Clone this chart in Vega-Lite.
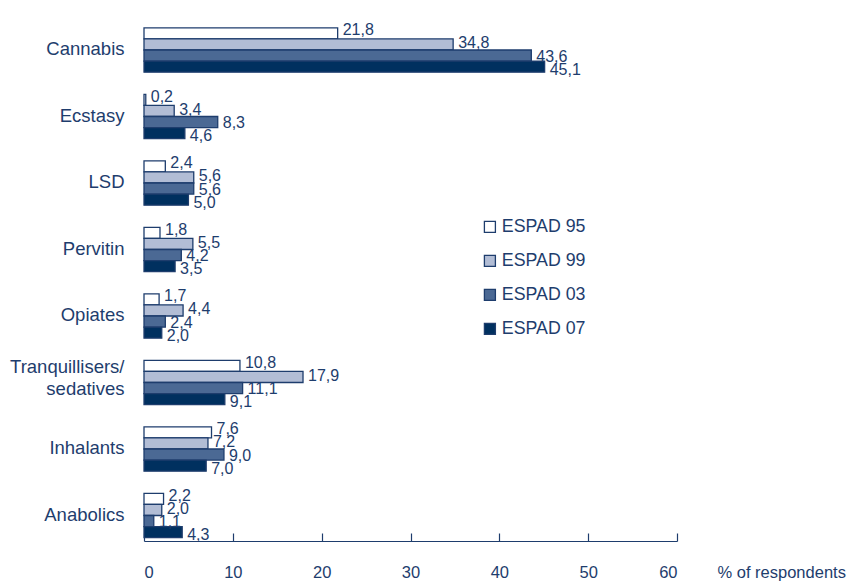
{
  "$schema": "https://vega.github.io/schema/vega-lite/v6.json",
  "width": 533,
  "height": 526,
  "autosize": {"type": "none"},
  "padding": {"left": 144, "top": 15, "right": 186, "bottom": 40},
  "background": "white",
  "config": {
    "view": {"stroke": null},
    "font": "Liberation Sans",
    "locale": {"number": {"decimal": ",", "thousands": ".", "grouping": [3], "currency": ["", " €"]}}
  },
  "data": {"values": [
    {"drug": "Cannabis", "survey": "ESPAD 95", "pct": 21.8},
    {"drug": "Cannabis", "survey": "ESPAD 99", "pct": 34.8},
    {"drug": "Cannabis", "survey": "ESPAD 03", "pct": 43.6},
    {"drug": "Cannabis", "survey": "ESPAD 07", "pct": 45.1},
    {"drug": "Ecstasy", "survey": "ESPAD 95", "pct": 0.2},
    {"drug": "Ecstasy", "survey": "ESPAD 99", "pct": 3.4},
    {"drug": "Ecstasy", "survey": "ESPAD 03", "pct": 8.3},
    {"drug": "Ecstasy", "survey": "ESPAD 07", "pct": 4.6},
    {"drug": "LSD", "survey": "ESPAD 95", "pct": 2.4},
    {"drug": "LSD", "survey": "ESPAD 99", "pct": 5.6},
    {"drug": "LSD", "survey": "ESPAD 03", "pct": 5.6},
    {"drug": "LSD", "survey": "ESPAD 07", "pct": 5.0},
    {"drug": "Pervitin", "survey": "ESPAD 95", "pct": 1.8},
    {"drug": "Pervitin", "survey": "ESPAD 99", "pct": 5.5},
    {"drug": "Pervitin", "survey": "ESPAD 03", "pct": 4.2},
    {"drug": "Pervitin", "survey": "ESPAD 07", "pct": 3.5},
    {"drug": "Opiates", "survey": "ESPAD 95", "pct": 1.7},
    {"drug": "Opiates", "survey": "ESPAD 99", "pct": 4.4},
    {"drug": "Opiates", "survey": "ESPAD 03", "pct": 2.4},
    {"drug": "Opiates", "survey": "ESPAD 07", "pct": 2.0},
    {"drug": "Tranquillisers/sedatives", "survey": "ESPAD 95", "pct": 10.8},
    {"drug": "Tranquillisers/sedatives", "survey": "ESPAD 99", "pct": 17.9},
    {"drug": "Tranquillisers/sedatives", "survey": "ESPAD 03", "pct": 11.1},
    {"drug": "Tranquillisers/sedatives", "survey": "ESPAD 07", "pct": 9.1},
    {"drug": "Inhalants", "survey": "ESPAD 95", "pct": 7.6},
    {"drug": "Inhalants", "survey": "ESPAD 99", "pct": 7.2},
    {"drug": "Inhalants", "survey": "ESPAD 03", "pct": 9.0},
    {"drug": "Inhalants", "survey": "ESPAD 07", "pct": 7.0},
    {"drug": "Anabolics", "survey": "ESPAD 95", "pct": 2.2},
    {"drug": "Anabolics", "survey": "ESPAD 99", "pct": 2.0},
    {"drug": "Anabolics", "survey": "ESPAD 03", "pct": 1.1},
    {"drug": "Anabolics", "survey": "ESPAD 07", "pct": 4.3}
  ]},
  "encoding": {
    "y": {
      "field": "drug", "type": "nominal",
      "sort": ["Cannabis", "Ecstasy", "LSD", "Pervitin", "Opiates", "Tranquillisers/sedatives", "Inhalants", "Anabolics"],
      "scale": {"range": [1.75, 533.75], "paddingInner": 0, "paddingOuter": 0},
      "axis": {
        "title": null, "domain": false, "ticks": false, "labelPadding": 20,
        "labelFontSize": 18.5, "labelColor": "#1e3d6d", "labelLineHeight": 22,
        "labelOffset": {"condition": {"test": "datum.value == 'Tranquillisers/sedatives'", "value": -16}, "value": -1},
        "labelExpr": "datum.label == 'Tranquillisers/sedatives' ? ['Tranquillisers/', 'sedatives'] : datum.label"
      }
    }
  },
  "layer": [
    {
      "mark": {"type": "bar", "stroke": "#1e3d6d", "strokeWidth": 1.3},
      "encoding": {
        "x": {
          "field": "pct", "type": "quantitative",
          "scale": {"domain": [0, 60], "nice": false},
          "axis": {
            "values": [0, 10, 20, 30, 40, 50, 60], "grid": false,
            "domainColor": "#1e3d6d", "domainWidth": 1.2, "tickColor": "#1e3d6d", "tickWidth": 1.2,
            "tickSize": -8, "labelPadding": 31, "labelFontSize": 16.5, "labelColor": "#1e3d6d",
            "title": "% of respondents", "titleFontSize": 16.5, "titleFontWeight": "normal", "titleColor": "#1e3d6d",
            "titleAlign": "left", "titleBaseline": "middle", "titleX": 573, "titleY": 31
          }
        },
        "yOffset": {
          "field": "survey", "type": "nominal",
          "sort": ["ESPAD 95", "ESPAD 99", "ESPAD 03", "ESPAD 07"],
          "scale": {"paddingInner": 0, "paddingOuter": 1.167}
        },
        "color": {
          "field": "survey", "type": "nominal",
          "sort": ["ESPAD 95", "ESPAD 99", "ESPAD 03", "ESPAD 07"],
          "scale": {"domain": ["ESPAD 95", "ESPAD 99", "ESPAD 03", "ESPAD 07"], "range": ["#ffffff", "#b2bdd5", "#4b6994", "#00305f"]},
          "legend": {
            "title": null, "orient": "none", "legendX": 337, "legendY": 203,
            "symbolType": "square", "symbolSize": 121, "symbolStrokeColor": "#1e3d6d", "symbolStrokeWidth": 1.3,
            "labelFontSize": 17.8, "labelColor": "#1e3d6d", "labelOffset": 3, "rowPadding": 15, "padding": 0
          }
        }
      }
    },
    {
      "mark": {"type": "text", "align": "left", "baseline": "middle", "dx": 5, "fontSize": 16, "color": "#1e3d6d"},
      "encoding": {
        "x": {"field": "pct", "type": "quantitative"},
        "yOffset": {
          "field": "survey", "type": "nominal",
          "sort": ["ESPAD 95", "ESPAD 99", "ESPAD 03", "ESPAD 07"],
          "scale": {"paddingInner": 0, "paddingOuter": 1.21}
        },
        "text": {"field": "pct", "type": "quantitative", "format": ".1f"}
      }
    },
    {
      "mark": {"type": "rule", "color": "#1e3d6d", "strokeWidth": 1.2},
      "encoding": {"x": {"datum": 0}}
    }
  ],
  "resolve": {"scale": {"yOffset": "independent"}}
}
